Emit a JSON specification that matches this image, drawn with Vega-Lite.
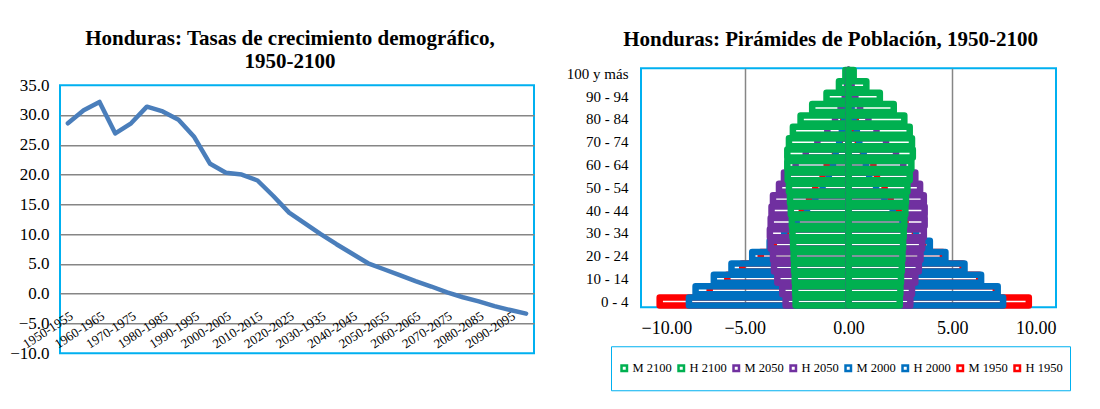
{
  "$schema": "https://vega.github.io/schema/vega-lite/v6.json",
  "padding": {"left": 8, "top": 27, "right": 5, "bottom": 5},
  "background": "white",
  "center": true,
  "resolve": {"legend": {"stroke": "independent"}},
  "config": {
    "font": "Liberation Serif",
    "view": {"stroke": "#00B0F0", "strokeWidth": 2},
    "concat": {"spacing": 30},
    "title": {"color": "black", "fontSize": 21, "fontWeight": "bold", "anchor": "middle"},
    "axis": {"labelColor": "black", "ticks": false, "domain": false}
  },
  "hconcat": [
    {
      "width": 474,
      "height": 268,
      "title": {"text": ["Honduras: Tasas de crecimiento demográfico,", "1950-2100"], "lineHeight": 23, "offset": 4, "dx": -7},
      "data": {"values": [
        {"periodo": "1950-1955", "tasa": 28.6},
        {"periodo": "1955-1960", "tasa": 30.8},
        {"periodo": "1960-1965", "tasa": 32.2},
        {"periodo": "1965-1970", "tasa": 26.9},
        {"periodo": "1970-1975", "tasa": 28.6},
        {"periodo": "1975-1980", "tasa": 31.4},
        {"periodo": "1980-1985", "tasa": 30.6},
        {"periodo": "1985-1990", "tasa": 29.2},
        {"periodo": "1990-1995", "tasa": 26.3},
        {"periodo": "1995-2000", "tasa": 21.8},
        {"periodo": "2000-2005", "tasa": 20.3},
        {"periodo": "2005-2010", "tasa": 20.0},
        {"periodo": "2010-2015", "tasa": 19.0},
        {"periodo": "2015-2020", "tasa": 16.4},
        {"periodo": "2020-2025", "tasa": 13.6},
        {"periodo": "2025-2030", "tasa": 11.8},
        {"periodo": "2030-1935", "tasa": 10.0},
        {"periodo": "2035-2040", "tasa": 8.3},
        {"periodo": "2040-2045", "tasa": 6.7},
        {"periodo": "2045-2050", "tasa": 5.1},
        {"periodo": "2050-2055", "tasa": 4.1},
        {"periodo": "2055-2060", "tasa": 3.1},
        {"periodo": "2060-2065", "tasa": 2.1},
        {"periodo": "2065-2070", "tasa": 1.2},
        {"periodo": "2070-2075", "tasa": 0.2},
        {"periodo": "2075-2080", "tasa": -0.6},
        {"periodo": "2080-2085", "tasa": -1.3},
        {"periodo": "2085-2090", "tasa": -2.1},
        {"periodo": "2090-2095", "tasa": -2.75},
        {"periodo": "2095-2100", "tasa": -3.35}
      ]},
      "mark": {"type": "line", "color": "#4A7EBB", "strokeWidth": 4.5, "strokeJoin": "round", "strokeCap": "round"},
      "encoding": {
        "x": {
          "field": "periodo", "type": "ordinal", "sort": null,
          "scale": {"type": "point", "padding": 0.5},
          "axis": {
            "title": "\u00a0", "titleFontSize": 11, "titlePadding": 12, "grid": false,
            "values": ["1950-1955", "1960-1965", "1970-1975", "1980-1985", "1990-1995", "2000-2005", "2010-2015", "2020-2025", "2030-1935", "2040-2045", "2050-2055", "2060-2065", "2070-2075", "2080-2085", "2090-2095"],
            "labelAngle": -33, "labelFontSize": 13, "offset": -48, "labelPadding": 4
          }
        },
        "y": {
          "field": "tasa", "type": "quantitative",
          "scale": {"domain": [-10, 35], "nice": false, "zero": false},
          "axis": {
            "title": null,
            "values": [-10, -5, 0, 5, 10, 15, 20, 25, 30, 35],
            "format": ".1f", "labelFontSize": 17, "labelPadding": 11,
            "grid": true, "gridWidth": 1.5,
            "gridColor": {"condition": {"test": "datum.value == 35 || datum.value == -10", "value": "transparent"}, "value": "#868686"}
          }
        }
      }
    },
    {
      "width": 415,
      "height": 239,
      "title": {"text": "Honduras: Pirámides de Población, 1950-2100", "offset": 16, "dx": -18},
      "data": {"values": [
        {"edad": "0 -  4", "H 1950": -9.10, "M 1950": 8.69, "H 2000": -7.69, "M 2000": 7.45, "H 2050": -3.03, "M 2050": 2.98, "H 2100": -2.55, "M 2100": 2.47},
        {"edad": "5 - 9", "H 1950": -6.69, "M 1950": 7.10, "H 2000": -7.37, "M 2000": 7.19, "H 2050": -3.19, "M 2050": 3.06, "H 2100": -2.57, "M 2100": 2.50},
        {"edad": "10 - 14", "H 1950": -5.84, "M 1950": 6.30, "H 2000": -6.49, "M 2000": 6.39, "H 2050": -3.43, "M 2050": 3.22, "H 2100": -2.59, "M 2100": 2.53},
        {"edad": "15 - 19", "H 1950": -5.12, "M 1950": 5.50, "H 2000": -5.64, "M 2000": 5.59, "H 2050": -3.59, "M 2050": 3.39, "H 2100": -2.62, "M 2100": 2.57},
        {"edad": "20 - 24", "H 1950": -4.23, "M 1950": 4.55, "H 2000": -4.64, "M 2000": 4.67, "H 2050": -3.64, "M 2050": 3.47, "H 2100": -2.64, "M 2100": 2.60},
        {"edad": "25 - 29", "H 1950": -3.60, "M 1950": 3.60, "H 2000": -3.80, "M 2000": 3.92, "H 2050": -3.75, "M 2050": 3.55, "H 2100": -2.67, "M 2100": 2.63},
        {"edad": "30 - 34", "H 1950": -3.00, "M 1950": 3.20, "H 2000": -3.10, "M 2000": 3.26, "H 2050": -3.79, "M 2050": 3.63, "H 2100": -2.70, "M 2100": 2.66},
        {"edad": "35 - 39", "H 1950": -2.60, "M 1950": 2.75, "H 2000": -2.50, "M 2000": 2.60, "H 2050": -3.75, "M 2050": 3.67, "H 2100": -2.73, "M 2100": 2.69},
        {"edad": "40 - 44", "H 1950": -2.25, "M 1950": 2.42, "H 2000": -2.00, "M 2000": 2.13, "H 2050": -3.71, "M 2050": 3.67, "H 2100": -2.78, "M 2100": 2.74},
        {"edad": "45 - 49", "H 1950": -1.90, "M 1950": 2.03, "H 2000": -1.60, "M 2000": 1.73, "H 2050": -3.64, "M 2050": 3.63, "H 2100": -2.82, "M 2100": 2.77},
        {"edad": "50 - 54", "H 1950": -1.60, "M 1950": 1.74, "H 2000": -1.25, "M 2000": 1.33, "H 2050": -3.35, "M 2050": 3.45, "H 2100": -2.87, "M 2100": 2.84},
        {"edad": "55 - 59", "H 1950": -1.25, "M 1950": 1.37, "H 2000": -0.95, "M 2000": 1.00, "H 2050": -3.11, "M 2050": 3.22, "H 2100": -2.93, "M 2100": 2.95},
        {"edad": "60 - 64", "H 1950": -1.05, "M 1950": 1.20, "H 2000": -0.75, "M 2000": 0.84, "H 2050": -2.55, "M 2050": 2.64, "H 2100": -2.95, "M 2100": 3.03},
        {"edad": "65 - 69", "H 1950": -0.65, "M 1950": 0.70, "H 2000": -0.62, "M 2000": 0.73, "H 2050": -2.06, "M 2050": 2.29, "H 2100": -2.95, "M 2100": 3.10},
        {"edad": "70 - 74", "H 1950": -0.42, "M 1950": 0.45, "H 2000": -0.45, "M 2000": 0.52, "H 2050": -1.50, "M 2050": 1.81, "H 2100": -2.87, "M 2100": 3.06},
        {"edad": "75 - 79", "H 1950": -0.28, "M 1950": 0.30, "H 2000": -0.32, "M 2000": 0.40, "H 2050": -1.02, "M 2050": 1.35, "H 2100": -2.68, "M 2100": 2.95},
        {"edad": "80 - 84", "H 1950": -0.25, "M 1950": 0.35, "H 2000": -0.20, "M 2000": 0.25, "H 2050": -0.65, "M 2050": 0.96, "H 2100": -2.31, "M 2100": 2.69},
        {"edad": "85 - 89", "H 1950": -0.08, "M 1950": 0.10, "H 2000": -0.10, "M 2000": 0.15, "H 2050": -0.38, "M 2050": 0.56, "H 2100": -1.75, "M 2100": 2.18},
        {"edad": "90 - 94", "H 1950": -0.04, "M 1950": 0.05, "H 2000": -0.05, "M 2000": 0.10, "H 2050": -0.18, "M 2050": 0.33, "H 2100": -1.06, "M 2100": 1.51},
        {"edad": "95 - 99", "H 1950": -0.02, "M 1950": 0.02, "H 2000": -0.02, "M 2000": 0.03, "H 2050": -0.07, "M 2050": 0.15, "H 2100": -0.46, "M 2100": 0.86},
        {"edad": "100 y más", "H 1950": -0.01, "M 1950": 0.01, "H 2000": -0.01, "M 2000": 0.01, "H 2050": -0.02, "M 2050": 0.05, "H 2100": -0.15, "M 2100": 0.25}
      ]},
      "transform": [
        {"fold": ["H 1950", "M 1950", "H 2000", "M 2000", "H 2050", "M 2050", "H 2100", "M 2100"], "as": ["serie", "valor"]}
      ],
      "mark": {"type": "bar", "fill": "transparent", "strokeWidth": 6.5, "strokeJoin": "round", "height": {"band": 0.7}},
      "encoding": {
        "y": {
          "field": "edad", "type": "nominal",
          "sort": ["100 y más", "95 - 99", "90 - 94", "85 - 89", "80 - 84", "75 - 79", "70 - 74", "65 - 69", "60 - 64", "55 - 59", "50 - 54", "45 - 49", "40 - 44", "35 - 39", "30 - 34", "25 - 29", "20 - 24", "15 - 19", "10 - 14", "5 - 9", "0 -  4"],
          "scale": {"paddingInner": 0, "paddingOuter": 0},
          "axis": {
            "title": null, "grid": false,
            "values": ["0 -  4", "10 - 14", "20 - 24", "30 - 34", "40 - 44", "50 - 54", "60 - 64", "70 - 74", "80 - 84", "90 - 94", "100 y más"],
            "labelFontSize": 15, "labelPadding": 13
          }
        },
        "x": {
          "field": "valor", "type": "quantitative", "stack": null,
          "scale": {"domain": [-10, 10], "nice": false},
          "axis": {
            "title": null, "values": [-10, -5, 0, 5, 10], "format": ".2f",
            "labelFontSize": 18, "labelPadding": 12,
            "grid": true, "gridWidth": 1.5,
            "gridColor": {"condition": {"test": "abs(datum.value) == 10", "value": "transparent"}, "value": "#868686"}
          }
        },
        "stroke": {
          "field": "serie", "type": "nominal",
          "scale": {
            "domain": ["M 2100", "H 2100", "M 2050", "H 2050", "M 2000", "H 2000", "M 1950", "H 1950"],
            "range": ["#00B050", "#00B050", "#7030A0", "#7030A0", "#0070C0", "#0070C0", "#FF0000", "#FF0000"]
          },
          "legend": {
            "title": null, "orient": "none", "legendX": -30, "legendY": 278,
            "direction": "horizontal",
            "padding": 7, "strokeColor": "#00B0F0",
            "labelFontSize": 12.5, "labelColor": "black", "labelOffset": 2,
            "symbolType": "square", "symbolSize": 30, "symbolStrokeWidth": 2.5, "symbolFillColor": "white",
            "columnPadding": 3, "clipHeight": 30,
            "encode": {"legend": {"update": {"strokeWidth": {"value": 2}}}}
          }
        },
        "order": {"field": "serie", "type": "ordinal"}
      }
    }
  ]
}
